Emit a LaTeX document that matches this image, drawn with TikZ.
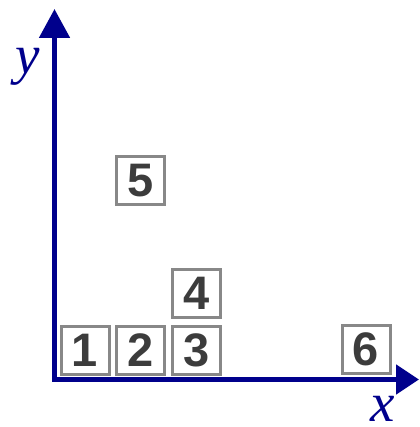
\documentclass[tikz,border=0pt]{standalone}
\usepackage{fontspec}
\newfontfamily\digitfont{Liberation Sans}
\newfontfamily\labelfont{Liberation Serif}
\usetikzlibrary{arrows.meta}
\definecolor{axisblue}{RGB}{0,0,140}
\definecolor{boxgray}{RGB}{136,136,136}
\definecolor{digitgray}{RGB}{60,60,60}
\tikzset{
  axisline/.style={line width=5pt, draw=axisblue},
  numbox/.style={draw=boxgray, line width=3pt, fill=white, minimum size=48pt, inner sep=0pt,
    font=\digitfont\bfseries\fontsize{47}{47}\selectfont, text=digitgray},
  axislabel/.style={text=axisblue, inner sep=0pt, anchor=base, font=\labelfont\itshape\fontsize{55}{55}\selectfont}
}
\begin{document}
\begin{tikzpicture}[x=1pt,y=-1pt]
\useasboundingbox (0,0) rectangle (419,427);
\coordinate (ytip) at (54.5,9);
\coordinate (origin) at (54.5,379.5);
\coordinate (xtip) at (419,379.5);
\draw[axisline, {Triangle[length=29pt,width=30pt]}-{Triangle[length=23pt,width=29pt]}] (ytip) -- (origin) -- (xtip);
\node[numbox] (b1) at (85,350) {1};
\node[numbox] (b2) at (140.5,350) {2};
\node[numbox] (b3) at (196.5,350) {3};
\node[numbox] (b4) at (196.5,293.5) {4};
\node[numbox] (b5) at (140.5,181) {5};
\node[numbox] (b6) at (366,349) {6};
\node[axislabel] (ylab) at (28,74) {y};
\node[axislabel] (xlab) at (383,421) {x};
\end{tikzpicture}
\end{document}
